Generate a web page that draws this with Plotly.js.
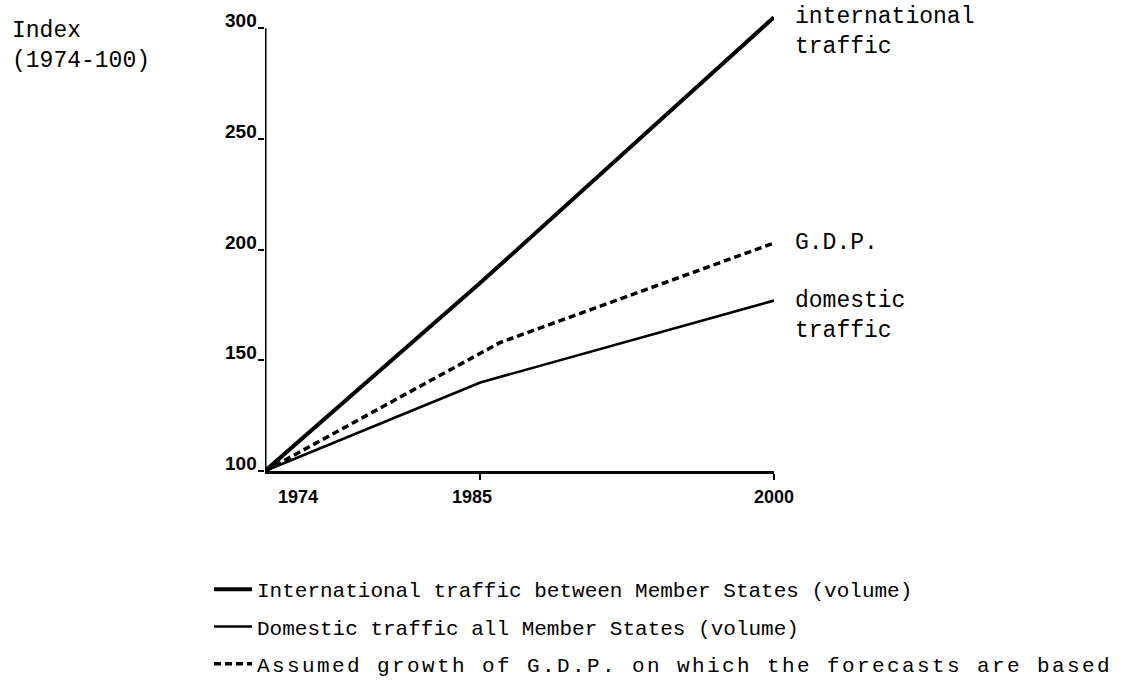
<!DOCTYPE html>
<html>
<head>
<meta charset="utf-8">
<script src="https://cdn.plot.ly/plotly-3.0.1.min.js"></script>
<style>html,body{margin:0;padding:0;background:#fff;}#chart{width:1138px;height:696px;}</style>
</head>
<body>
<div id="chart"></div>
<script>
// ---- data ----
const intlYears = [1974, 1985, 2000];
const intlValues = [100, 185, 305];
const domYears = [1974, 1985, 2000];
const domValues = [100, 140, 177];
const gdpYears = [1974, 1986, 2000];
const gdpValues = [100, 158, 203];
const xTickYears = [1974, 1985, 2000];
const yTickValues = [100, 150, 200, 250, 300];
const seriesNames = [
  "International traffic between Member States (volume)",
  "Domestic traffic all Member States (volume)",
  "Assumed growth of G.D.P. on which the forecasts are based"
];
const intlLabel = "international<br>traffic";
const domLabel = "domestic<br>traffic";
const gdpLabel = "G.D.P.";
const axisTitle = "Index<br>(1974-100)";

// ---- layout geometry ----
const W = 1138, H = 696;
const L = 265, R = 364, T = 15, B = 211;
const PW = W - L - R, PH = H - T - B;
const mono = "Liberation Mono, Courier New, monospace";
const sans = "Liberation Sans, Arial, sans-serif";
const ink = "#000";

const traces = [
  {x: intlYears, y: intlValues, name: seriesNames[0], mode: "lines", legendgroup: "a",
   line: {color: ink, width: 4}},
  {x: domYears, y: domValues, name: seriesNames[1], mode: "lines", legendgroup: "b",
   line: {color: ink, width: 2.6}},
  {x: gdpYears, y: gdpValues, name: "<span style='letter-spacing:2.4px'>" + seriesNames[2] + "</span>",
   mode: "lines", legendgroup: "c",
   line: {color: ink, width: 3.5, dash: "7px,4px"}}
];

const annotations = [];
const monoFont = {family: mono, size: 23, color: ink};
// y-axis title
annotations.push({xref: "paper", yref: "paper", x: (10 - L) / PW, y: 1 - (47 - T) / PH,
  xanchor: "left", yanchor: "middle", align: "left", showarrow: false,
  text: axisTitle, font: monoFont});
// y tick labels (baseline sits on the tick)
yTickValues.forEach(v => {
  annotations.push({xref: "paper", yref: "y", x: 0, y: v, xanchor: "right", yanchor: "bottom",
    xshift: -6, yshift: -5, showarrow: false,
    text: "<b>" + v + "</b>", font: {family: sans, size: 19, color: ink}});
});
// x tick labels
const xShift = [33, -8, 0];
xTickYears.forEach((yr, i) => {
  annotations.push({xref: "x", yref: "paper", x: yr, y: 0, yanchor: "top", xanchor: "center",
    xshift: xShift[i], yshift: -14, showarrow: false,
    text: "<b>" + yr + "</b>", font: {family: sans, size: 18, color: ink}});
});
// labels at the line ends (first line level with the end of each line)
const lastX = intlYears[intlYears.length - 1];
const lineStep = 15;
annotations.push({xref: "x", yref: "y", x: lastX, y: intlValues[intlValues.length - 1],
  xanchor: "left", yanchor: "middle", align: "left", xshift: 19, yshift: -lineStep,
  showarrow: false, text: intlLabel, font: monoFont});
annotations.push({xref: "x", yref: "y", x: lastX, y: gdpValues[gdpValues.length - 1],
  xanchor: "left", yanchor: "middle", align: "left", xshift: 19, yshift: 0,
  showarrow: false, text: gdpLabel, font: monoFont});
annotations.push({xref: "x", yref: "y", x: lastX, y: domValues[domValues.length - 1],
  xanchor: "left", yanchor: "middle", align: "left", xshift: 19, yshift: -lineStep,
  showarrow: false, text: domLabel, font: monoFont});

const layout = {
  width: W, height: H,
  margin: {l: L, r: R, t: T, b: B, pad: 0},
  paper_bgcolor: "#fff", plot_bgcolor: "#fff",
  showlegend: true,
  legend: {x: (209 - L) / PW, y: -(586 - (T + PH)) / PH, xanchor: "left", yanchor: "top",
    font: {family: mono, size: 21, color: ink}, tracegroupgap: 7, itemwidth: 38,
    bgcolor: "rgba(0,0,0,0)"},
  xaxis: {range: [xTickYears[0], xTickYears[xTickYears.length - 1]], showgrid: false, zeroline: false,
    showline: true, linecolor: ink, linewidth: 2.5,
    tickmode: "array", tickvals: xTickYears.slice(1), ticks: "outside", ticklen: 6, tickwidth: 2,
    tickcolor: ink, showticklabels: false},
  yaxis: {range: [100, 306], showgrid: false, zeroline: false, showline: false,
    tickmode: "array", tickvals: yTickValues, ticks: "outside", ticklen: 6, tickwidth: 2,
    tickcolor: ink, showticklabels: false},
  shapes: [{type: "line", xref: "x", yref: "y",
    x0: xTickYears[0], x1: xTickYears[0], y0: yTickValues[0], y1: yTickValues[yTickValues.length - 1],
    line: {color: ink, width: 3}}],
  annotations: annotations
};

Plotly.newPlot("chart", traces, layout, {displayModeBar: false, staticPlot: true});
</script>
</body>
</html>
